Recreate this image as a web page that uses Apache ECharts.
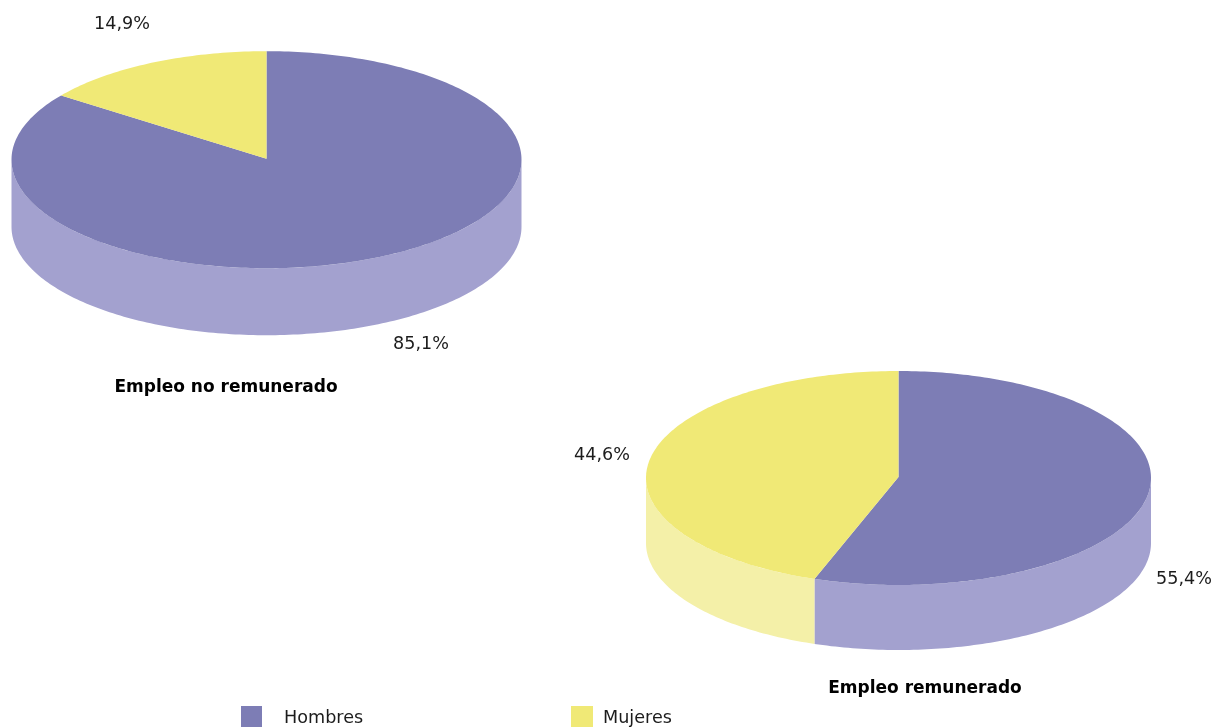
<!DOCTYPE html>
<html><head><meta charset="utf-8">
<style>html,body{margin:0;padding:0;background:#fff}#c{width:1214px;height:727px}</style>
<script src="https://cdn.jsdelivr.net/npm/echarts@6/dist/echarts.min.js"></script>
</head><body><div id="c"></div>
<script>
const categories = ['Hombres', 'Mujeres'];
const panels = ['Empleo no remunerado', 'Empleo remunerado'];
const hombres = [85.1, 55.4];
const mujeres = [14.9, 44.6];
const valueLabels = [['85,1%', '14,9%'], ['55,4%', '44,6%']];

const FONT = 'Tahoma, "DejaVu Sans", sans-serif';
const LAYOUT = [
  { cx: 266.5, cy: 159.7, rx: 255, ry: 108.5, depth: 67, labels: [[421, 344.5], [122, 24.5]], title: [226, 387] },
  { cx: 898.5, cy: 478, rx: 252.5, ry: 107, depth: 65, labels: [[1184, 579.5], [602, 455.5]], title: [925, 688] }
];
const TOP = ['#7d7db5', '#f0e976'];
const WALL = ['#a3a1cf', '#f4f0a8'];

function pt(g, deg, dy) {
  const a = deg * Math.PI / 180;
  return [g.cx + g.rx * Math.sin(a), g.cy - g.ry * Math.cos(a) + (dy || 0)];
}
function arc(g, from, to, dy) {
  const n = Math.max(2, Math.ceil(Math.abs(to - from)));
  const out = [];
  for (let i = 0; i <= n; i++) out.push(pt(g, from + (to - from) * i / n, dy));
  return out;
}
function renderSlice(sliceIndex) {
  return function (params, api) {
    const p = api.value(0);
    const val = api.value(1);
    const g = LAYOUT[p];
    const start = sliceIndex === 0 ? 0 : hombres[p] / (hombres[p] + mujeres[p]) * 360;
    const end = start + val / (hombres[p] + mujeres[p]) * 360;
    const children = [];
    const wf = Math.max(start, 90), wt = Math.min(end, 270);
    if (wt > wf) {
      const upper = arc(g, wf, wt, 0);
      const lower = arc(g, wt, wf, g.depth);
      children.push({ type: 'polygon', shape: { points: upper.concat(lower) }, style: { fill: WALL[sliceIndex] } });
    }
    children.push({
      type: 'polygon',
      shape: { points: [[g.cx, g.cy - 1]].concat(arc(g, start, end, 0)) },
      style: { fill: TOP[sliceIndex] }
    });
    const lp = g.labels[sliceIndex];
    children.push({
      type: 'text', x: lp[0], y: lp[1],
      style: { text: valueLabels[p][sliceIndex], fill: '#1c1c1c', font: '17.6px ' + FONT, align: 'center', verticalAlign: 'middle' }
    });
    return { type: 'group', children };
  };
}
const option = {
  animation: false,
  backgroundColor: '#fff',
  title: panels.map((t, i) => ({
    text: t, left: LAYOUT[i].title[0], top: LAYOUT[i].title[1] + 1, textAlign: 'center', textVerticalAlign: 'middle',
    padding: 0,
    textStyle: { fontFamily: FONT, fontSize: 17, fontWeight: 'bold', color: '#000' }
  })),
  legend: [
    { data: [categories[0]], left: 241, top: 706, padding: 0, itemWidth: 21, itemHeight: 25, icon: 'rect',
      textStyle: { fontFamily: FONT, fontSize: 17.6, color: '#1c1c1c', padding: [0, 0, 0, 17] } },
    { data: [categories[1]], left: 571, top: 706, padding: 0, itemWidth: 22, itemHeight: 25, icon: 'rect',
      textStyle: { fontFamily: FONT, fontSize: 17.6, color: '#1c1c1c', padding: [0, 0, 0, 5] } }
  ],
  series: categories.map((name, i) => ({
    type: 'custom', name, coordinateSystem: 'none',
    itemStyle: { color: TOP[i] },
    renderItem: renderSlice(i),
    data: (i === 0 ? hombres : mujeres).map((v, p) => [p, v])
  }))
};
echarts.init(document.getElementById('c'), null, { renderer: 'canvas' }).setOption(option);
</script></body></html>
